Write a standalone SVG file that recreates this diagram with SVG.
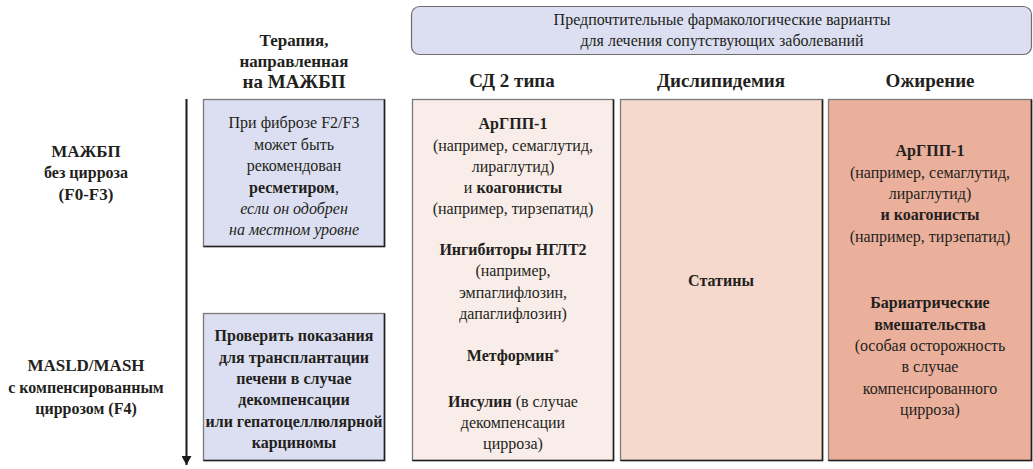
<svg xmlns="http://www.w3.org/2000/svg" width="1033" height="469" viewBox="0 0 1033 469">
<defs>
<marker id="arr" markerWidth="10" markerHeight="10" refX="9" refY="5" orient="auto" markerUnits="userSpaceOnUse" viewBox="0 0 10 10">
<path d="M0,0 L9,5 L0,10 Z" fill="#1a1a1a"/>
</marker>
<style>
text{font-family:"Liberation Serif","Times New Roman",Tinos,"Nimbus Roman","Nimbus Roman No9 L",FreeSerif,"Noto Serif","DejaVu Serif",Georgia,serif;fill:#231f20;text-anchor:middle}
.t{font-size:16px}
.b{font-weight:bold}
.i{font-style:italic}
.h{font-size:19px;font-weight:bold}
.l{font-size:17px;font-weight:bold}
.box{stroke:#7a7a7a;stroke-width:1.3}
.sh{fill:none;stroke:#1e1e1e;stroke-width:1.6}
</style>
</defs>
<rect width="1033" height="469" fill="#ffffff"/>

<g id="header">
<rect x="411.5" y="6.5" width="620" height="48" rx="8" fill="#dcdff1" stroke="#6e6e6e" stroke-width="1.2"/>
<text class="t" x="722" y="25">Предпочтительные фармакологические варианты</text>
<text class="t" x="722" y="46">для лечения сопутствующих заболеваний</text>
</g>

<g id="col-therapy-title">
<text class="l" x="294" y="46">Терапия,</text>
<text class="l" x="294" y="67">направленная</text>
<text class="h" x="294" y="88">на МАЖБП</text>
</g>
<g id="col-t2d-title"><text class="h" x="512" y="87">СД 2 типа</text></g>
<g id="col-dys-title"><text class="h" x="721" y="87">Дислипидемия</text></g>
<g id="col-obe-title"><text class="h" x="930" y="87">Ожирение</text></g>

<g id="row1-label">
<text class="l" x="86" y="157">МАЖБП</text>
<text class="t b" x="86" y="178">без цирроза</text>
<text class="l" x="86" y="200">(F0-F3)</text>
</g>
<g id="row2-label">
<text class="l" x="86" y="371">MASLD/MASH</text>
<text class="t b" x="86" y="393">с компенсированным</text>
<text class="t b" x="86" y="414">циррозом (F4)</text>
</g>

<g id="connectors">
<line x1="186.5" y1="99" x2="186.5" y2="465" stroke="#1a1a1a" stroke-width="2" marker-end="url(#arr)"/>
</g>

<g id="box-resmetirom">
<rect class="box" x="203.5" y="99.5" width="181" height="147" fill="#dcdff1"/>
<polyline class="sh" points="384.5,99.5 384.5,246.5 203.5,246.5"/>
<text class="t" x="294" y="128">При фиброзе F2/F3</text>
<text class="t" x="294" y="150">может быть</text>
<text class="t" x="294" y="171">рекомендован</text>
<text class="t" x="294" y="193"><tspan class="b">ресметиром</tspan>,</text>
<text class="t i" x="294" y="214">если он одобрен</text>
<text class="t i" x="294" y="235">на местном уровне</text>
</g>

<g id="box-transplant">
<rect class="box" x="203.5" y="313.5" width="181" height="147" fill="#dcdff1"/>
<polyline class="sh" points="384.5,313.5 384.5,460.5 203.5,460.5"/>
<text class="t b" x="294" y="341">Проверить показания</text>
<text class="t b" x="294" y="363">для трансплантации</text>
<text class="t b" x="294" y="384">печени в случае</text>
<text class="t b" x="294" y="405">декомпенсации</text>
<text class="t b" x="294" y="427">или гепатоцеллюлярной</text>
<text class="t b" x="294" y="448">карциномы</text>
</g>

<g id="box-t2d">
<rect class="box" x="412.5" y="99.5" width="201" height="361" fill="#f9ede9"/>
<polyline class="sh" points="613.5,99.5 613.5,460.5 412.5,460.5"/>
<text class="t b" x="513" y="129">АрГПП-1</text>
<text class="t" x="513" y="151">(например, семаглутид,</text>
<text class="t" x="513" y="172">лираглутид)</text>
<text class="t" x="513" y="193">и <tspan class="b">коагонисты</tspan></text>
<text class="t" x="513" y="214">(например, тирзепатид)</text>
<text class="t b" x="513" y="255">Ингибиторы НГЛТ2</text>
<text class="t" x="513" y="276">(например,</text>
<text class="t" x="513" y="298">эмпаглифлозин,</text>
<text class="t" x="513" y="319">дапаглифлозин)</text>
<text class="t" x="513" y="361"><tspan class="b">Метформин</tspan><tspan font-size="11" dy="-5">*</tspan></text>
<text class="t" x="513" y="407"><tspan class="b">Инсулин</tspan> (в случае</text>
<text class="t" x="513" y="428">декомпенсации</text>
<text class="t" x="513" y="449">цирроза)</text>
</g>

<g id="box-dyslipidemia">
<rect class="box" x="620.5" y="99.5" width="202" height="361" fill="#f5d9cc"/>
<polyline class="sh" points="822.5,99.5 822.5,460.5 620.5,460.5"/>
<text class="t b" x="721" y="286">Статины</text>
</g>

<g id="box-obesity">
<rect class="box" x="828.5" y="99.5" width="203" height="361" fill="#ebb09b"/>
<polyline class="sh" points="1031.5,99.5 1031.5,460.5 828.5,460.5"/>
<text class="t b" x="930" y="156">АрГПП-1</text>
<text class="t" x="930" y="178">(например, семаглутид,</text>
<text class="t" x="930" y="199">лираглутид)</text>
<text class="t b" x="930" y="220">и коагонисты</text>
<text class="t" x="930" y="242">(например, тирзепатид)</text>
<text class="t b" x="930" y="308">Бариатрические</text>
<text class="t b" x="930" y="330">вмешательства</text>
<text class="t" x="930" y="351">(особая осторожность</text>
<text class="t" x="930" y="372">в случае</text>
<text class="t" x="930" y="394">компенсированного</text>
<text class="t" x="930" y="415">цирроза)</text>
</g>
</svg>
